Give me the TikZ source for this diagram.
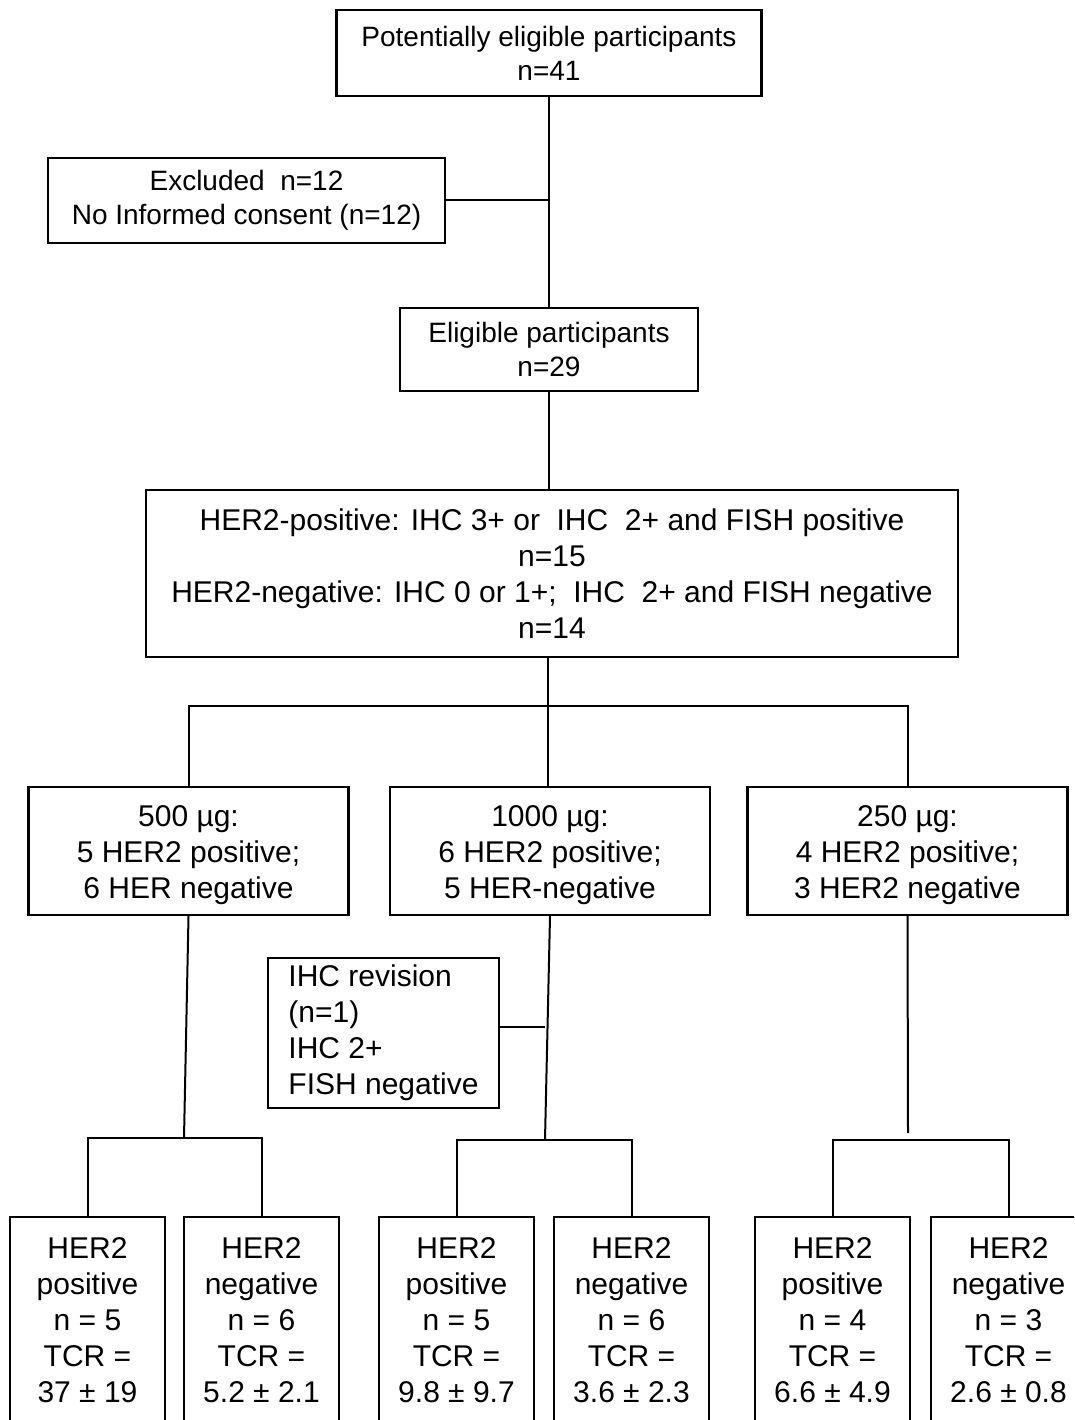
\documentclass[tikz,border=0pt]{standalone}
\usepackage{fontspec}
\setmainfont{Liberation Sans}
\begin{document}
\begin{tikzpicture}[
        x=1pt, y=-1pt,
        box/.style={draw=black, line width=2.4pt, inner sep=0pt, align=center,
            font=\fontsize{30}{36}\selectfont},
        small/.style={font=\fontsize{28}{34}\selectfont},
        dose/.style={box, minimum width=320, minimum height=128},
        leaf/.style={box, minimum width=155, minimum height=206},
        link/.style={draw=black, line width=2pt},
    ]
    \clip (0,0) rectangle (1074,1420);
    \fill[white] (0,0) rectangle (1074,1420);
    \node[box, small, minimum width=425, minimum height=86] (pot) at (549,53) {Potentially eligible participants\\n=41};
    \node[box, small, minimum width=397, minimum height=85] (excl) at (246.5,200.5) {Excluded\ \ n=12\\No Informed consent (n=12)};
    \node[box, small, minimum width=298, minimum height=83] (elig) at (549,349.5) {Eligible participants\\n=29};
    \node[box, minimum width=812, minimum height=167] (her) at (552,573.5) {HER2-positive: IHC 3+ or\ \ IHC\ \ 2+ and FISH positive\\n=15\\HER2-negative: IHC 0 or 1+;\ \ IHC\ \ 2+ and FISH negative\\n=14};
    \node[dose] (dosea) at (188.5,851) {\rule{0pt}{30pt}500 µg:\\5 HER2 positive;\\6 HER negative};
    \node[dose] (doseb) at (550,851) {\rule{0pt}{30pt}1000 µg:\\6 HER2 positive;\\5 HER-negative};
    \node[dose] (dosec) at (907.5,851) {\rule{0pt}{30pt}250 µg:\\4 HER2 positive;\\3 HER2 negative};
    \node[box, align=left, minimum width=231, minimum height=150] (rev) at (383.5,1033) {IHC revision\\(n=1)\\IHC 2+\\FISH negative};
    \node[leaf] (posa) at (87.5,1320) {HER2\\positive\\n = 5\\TCR =\\37 ± 19};
    \node[leaf] (nega) at (261.5,1320) {HER2\\negative\\n = 6\\TCR =\\5.2 ± 2.1};
    \node[leaf] (posb) at (456.5,1320) {HER2\\positive\\n = 5\\TCR =\\9.8 ± 9.7};
    \node[leaf] (negb) at (631.5,1320) {HER2\\negative\\n = 6\\TCR =\\3.6 ± 2.3};
    \node[leaf] (posc) at (832.5,1320) {HER2\\positive\\n = 4\\TCR =\\6.6 ± 4.9};
    \node[leaf] (negc) at (1008.5,1320) {HER2\\negative\\n = 3\\TCR =\\2.6 ± 0.8};
    \coordinate (split) at (548,706);
    \coordinate (ja) at (184,1138);
    \coordinate (jb) at (545,1140);
    \coordinate (jc) at (908,1133);
    \coordinate (barc) at (908,1140);
    \draw[link] (pot.south) -- (elig.north);
    \draw[link] (excl.east) -- (excl.east -| pot.south);
    \draw[link] (elig.south) -- (elig.south |- her.north);
    \draw[link] (her.south -| split) -- (split);
    \draw[link] (dosea.north) |- (split) -| (dosec.north);
    \draw[link] (split) -- (split |- doseb.north);
    \draw[link] (dosea.south) -- (ja);
    \draw[link] (posa.north) |- (ja) -| (nega.north);
    \draw[link] (doseb.south) -- (jb);
    \draw[link] (posb.north) |- (jb) -| (negb.north);
    \draw[link] ([yshift=6pt]rev.east) -- ([yshift=6pt]rev.east -| jb);
    \draw[link] (dosec.south) -- (jc);
    \draw[link] (posc.north) |- (barc) -| (negc.north);
\end{tikzpicture}
\end{document}
